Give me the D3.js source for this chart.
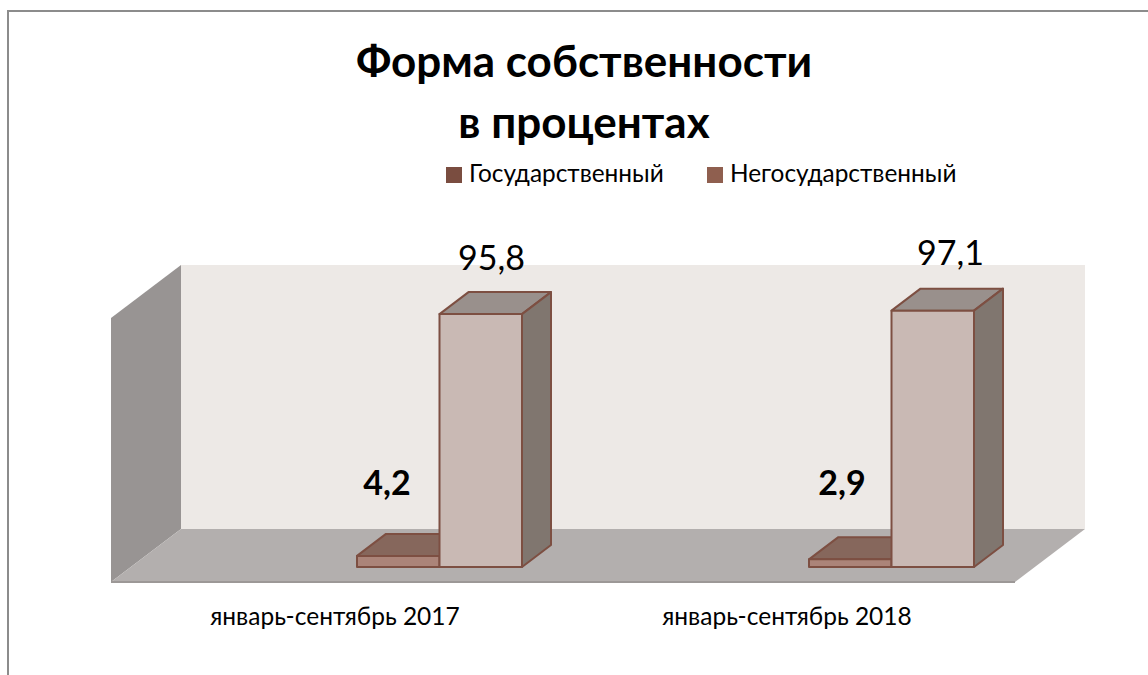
<!DOCTYPE html>
<html>
<head>
<meta charset="utf-8">
<script src="https://cdn.jsdelivr.net/npm/d3@7"></script>
<style>
  html, body { margin: 0; padding: 0; background: #fff; }
  svg { display: block; }
  text { font-family: Lato, "Open Sans", sans-serif; fill: #000; }
</style>
</head>
<body>
<div id="chart"></div>
<script>
const categories = ['январь-сентябрь 2017', 'январь-сентябрь 2018'];
const seriesNames = ['Государственный', 'Негосударственный'];
const stateValues = [4.2, 2.9];
const privateValues = [95.8, 97.1];
const valueLabels = [['4,2', '2,9'], ['95,8', '97,1']];
const titleLines = ['Форма собственности', 'в процентах'];

const outerWidth = 1148;
const outerHeight = 675;
const depth = {x: 70, y: -53};       // depth of the 3d box
const barDepth = {x: 29, y: -22};
const plot = {left: 111, right: 1015, bottom: 582, top: 318};
const baseline = 567;

const svg = d3.select('#chart').append('svg')
   .attr('width', outerWidth)
   .attr('height', outerHeight);

// Outer frame, only top and left edges show
svg.append('path')
   .attr('d', 'M8,675V11H1148')
   .attr('fill', 'none')
   .attr('stroke', '#8c8c8c')
   .attr('stroke-width', 2);

// Title
svg.append('g').selectAll('text')
   .data(titleLines)
   .join('text')
   .attr('x', 584)
   .attr('y', (d, i) => 77 + i * 61)
   .attr('text-anchor', 'middle')
   .attr('font-size', 44)
   .attr('font-weight', 700)
   .text(d => d);

// Scales
const x = d3.scaleBand()
   .domain(categories)
   .range([plot.left, plot.right]);

const xSeries = d3.scaleBand()
   .domain(seriesNames)
   .range([246, 411]);

const y = d3.scaleLinear()
   .domain([0, 100])
   .range([baseline, baseline - (plot.bottom - plot.top)]);

const pts = a => a.map(p => p.join(',')).join(' ');

// Walls and floor
const room = svg.append('g');
room.append('polygon')
   .attr('points', pts([
      [plot.left + depth.x, plot.top + depth.y],
      [plot.right + depth.x, plot.top + depth.y],
      [plot.right + depth.x, plot.bottom + depth.y],
      [plot.left + depth.x, plot.bottom + depth.y]]))
   .attr('fill', '#ede9e6');
room.append('polygon')
   .attr('points', pts([
      [plot.left, plot.top],
      [plot.left + depth.x, plot.top + depth.y],
      [plot.left + depth.x, plot.bottom + depth.y],
      [plot.left, plot.bottom]]))
   .attr('fill', '#989493');
room.append('polygon')
   .attr('points', pts([
      [plot.left, plot.bottom],
      [plot.left + depth.x, plot.bottom + depth.y],
      [plot.right + depth.x, plot.bottom + depth.y],
      [plot.right, plot.bottom]]))
   .attr('fill', '#b3afae');
room.append('line')
   .attr('x1', plot.left).attr('x2', plot.right)
   .attr('y1', plot.bottom).attr('y2', plot.bottom)
   .attr('stroke', '#9c9897')
   .attr('stroke-width', 2);

// Bars
const barStyles = [
   {front: '#ab8479', top: '#86675c', side: '#7d6158'},
   {front: '#c9b9b4', top: '#99908c', side: '#80766f'}
];
const barStroke = '#7d4f42';

function drawBar(g, x0, x1, yTop, style) {
   const d = barDepth;
   g.append('polygon')
      .attr('points', pts([[x0, yTop], [x0 + d.x, yTop + d.y], [x1 + d.x, yTop + d.y], [x1, yTop]]))
      .attr('fill', style.top);
   g.append('polygon')
      .attr('points', pts([[x1, yTop], [x1 + d.x, yTop + d.y], [x1 + d.x, baseline + d.y], [x1, baseline]]))
      .attr('fill', style.side);
   g.append('rect')
      .attr('x', x0).attr('y', yTop)
      .attr('width', x1 - x0).attr('height', baseline - yTop)
      .attr('fill', style.front);
   g.selectAll('*')
      .attr('stroke', barStroke)
      .attr('stroke-width', 2)
      .attr('stroke-linejoin', 'round');
}

const allSeries = [stateValues, privateValues];
categories.forEach((cat, i) => {
   allSeries.forEach((values, s) => {
      const x0 = x(cat) + xSeries(seriesNames[s]);
      const g = svg.append('g');
      drawBar(g, x0, x0 + xSeries.bandwidth(), y(values[i]), barStyles[s]);
   });
});

// Value labels, hand placed in the original so the offsets differ a bit
const stateLabelDx = [30, 33];
const privateLabelDx = [52, 59];
categories.forEach((cat, i) => {
   svg.append('text')
      .attr('x', x(cat) + xSeries(seriesNames[0]) + stateLabelDx[i])
      .attr('y', baseline - 72)
      .attr('text-anchor', 'middle')
      .attr('font-size', 34)
      .attr('font-weight', 700)
      .text(valueLabels[0][i]);
   svg.append('text')
      .attr('x', x(cat) + xSeries(seriesNames[1]) + privateLabelDx[i])
      .attr('y', y(privateValues[0]) - 44 - i * 5)
      .attr('text-anchor', 'middle')
      .attr('font-size', 34)
      .text(valueLabels[1][i]);
});

// Category labels
svg.append('g').selectAll('text')
   .data(categories)
   .join('text')
   .attr('x', d => x(d) + x.bandwidth() / 2 - 2)
   .attr('y', 625)
   .attr('text-anchor', 'middle')
   .attr('font-size', 24.5)
   .text(d => d);

// Legend
const legendX = [446, 707];
const legendColors = ['#7a4d40', '#8f5f4f'];
const legend = svg.append('g').selectAll('g')
   .data(seriesNames)
   .join('g')
   .attr('transform', (d, i) => `translate(${legendX[i]}, 167)`);
legend.append('rect')
   .attr('width', 16).attr('height', 16)
   .attr('fill', (d, i) => legendColors[i]);
legend.append('text')
   .attr('x', 23).attr('y', 15)
   .attr('font-size', 24.4)
   .text(d => d);
</script>
</body>
</html>
